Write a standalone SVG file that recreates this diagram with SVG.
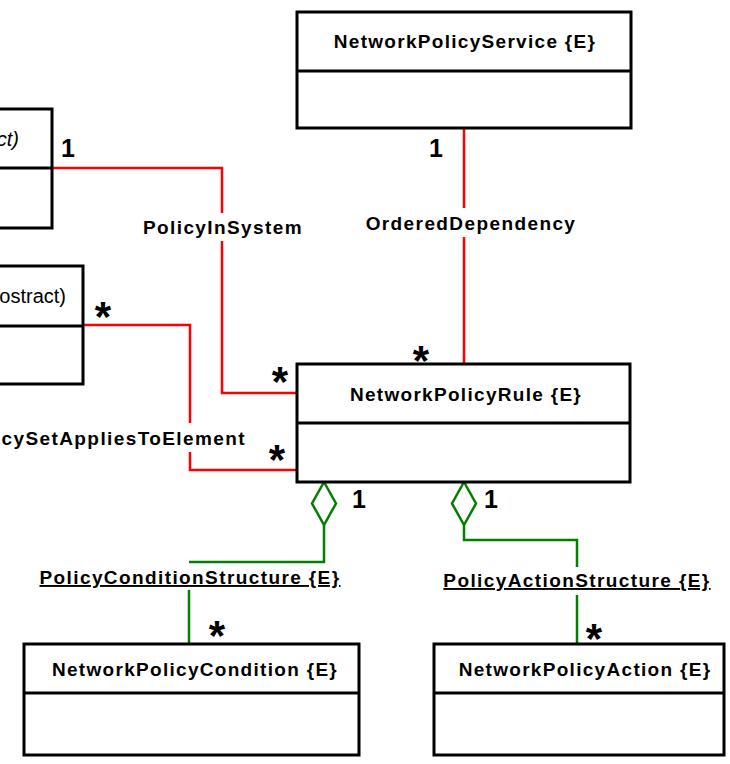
<svg xmlns="http://www.w3.org/2000/svg" width="730" height="764" viewBox="0 0 730 764">
  <style>
    .box { fill: #ffffff; stroke: #000000; stroke-width: 3; }
    .div { stroke: #000000; stroke-width: 3; fill: none; }
    .title { font-family: "Liberation Sans", Arial, sans-serif; font-weight: bold; font-size: 19px; letter-spacing: 1.3px; text-anchor: middle; fill: #000; }
    .plain { font-family: "Liberation Sans", Arial, sans-serif; font-size: 20px; fill: #000; text-anchor: end; }
    .assoc { font-family: "Liberation Sans", Arial, sans-serif; font-weight: bold; font-size: 19px; letter-spacing: 1.4px; fill: #000; }
    .mult { font-family: "Liberation Sans", Arial, sans-serif; font-weight: bold; font-size: 25px; fill: #000; text-anchor: middle; }
    .star { font-family: "Liberation Sans", Arial, sans-serif; font-weight: bold; font-size: 42px; fill: #000; text-anchor: middle; }
    .red { stroke: #ff0000; stroke-width: 2.5; fill: none; }
    .green { stroke: #008000; stroke-width: 2.5; fill: none; }
    .diamond { stroke: #008000; stroke-width: 2.5; fill: #ffffff; }
  </style>

  <!-- connectors -->
  <g id="connectors">
    <!-- PolicyInSystem -->
    <polyline class="red" points="52,168 222,168 222,213"/>
    <polyline class="red" points="222,241 222,393 297,393"/>
    <!-- PolicySetAppliesToElement -->
    <polyline class="red" points="83,325 190,325 190,423"/>
    <polyline class="red" points="190,452 190,470 297,470"/>
    <!-- OrderedDependency -->
    <line class="red" x1="464" y1="128" x2="464" y2="208"/>
    <line class="red" x1="464" y1="237" x2="464" y2="364"/>
    <!-- PolicyConditionStructure -->
    <polyline class="green" points="324,525 324,562 189,562"/>
    <line class="green" x1="189" y1="590" x2="189" y2="644"/>
    <!-- PolicyActionStructure -->
    <polyline class="green" points="464,525 464,540 577,540 577,567"/>
    <line class="green" x1="577" y1="595" x2="577" y2="644"/>
    <!-- aggregation diamonds -->
    <polygon class="diamond" points="324,482 336,503.5 324,525 312,503.5"/>
    <polygon class="diamond" points="464,482 476,503.5 464,525 452,503.5"/>

    <!-- association labels -->
    <text class="assoc" x="223" y="234" text-anchor="middle">PolicyInSystem</text>
    <text class="assoc" x="471" y="230" text-anchor="middle">OrderedDependency</text>
    <text class="assoc" x="246" y="445" text-anchor="end">cySetAppliesToElement</text>
    <text class="assoc" x="190" y="584" text-anchor="middle" text-decoration="underline">PolicyConditionStructure {E}</text>
    <text class="assoc" x="577" y="587" text-anchor="middle" text-decoration="underline">PolicyActionStructure {E}</text>

    <!-- multiplicities -->
    <text class="mult" x="68" y="157">1</text>
    <text class="mult" x="436" y="157">1</text>
    <text class="mult" x="359" y="508">1</text>
    <text class="mult" x="491" y="508">1</text>
    <text class="star" x="421" y="375">*</text>
    <text class="star" x="280" y="396">*</text>
    <text class="star" x="103" y="331">*</text>
    <text class="star" x="277" y="474">*</text>
    <text class="star" x="217" y="650">*</text>
    <text class="star" x="594" y="653">*</text>
  </g>

  <!-- partially visible class (top left) -->
  <g id="class-system">
    <rect class="box" x="-200" y="109" width="252" height="119"/>
    <line class="div" x1="-200" y1="168" x2="52" y2="168"/>
    <text class="plain" x="19" y="146" font-style="italic">ct)</text>
  </g>

  <!-- partially visible class (left) -->
  <g id="class-element">
    <rect class="box" x="-200" y="266" width="283" height="118"/>
    <line class="div" x1="-200" y1="326" x2="83" y2="326"/>
    <text class="plain" x="66" y="303">ostract)</text>
  </g>

  <g id="network-policy-service">
    <rect class="box" x="297" y="12" width="334" height="116"/>
    <line class="div" x1="297" y1="71" x2="631" y2="71"/>
    <text class="title" x="465" y="48">NetworkPolicyService {E}</text>
  </g>

  <g id="network-policy-rule">
    <rect class="box" x="297" y="364" width="333" height="118"/>
    <line class="div" x1="297" y1="423" x2="630" y2="423"/>
    <text class="title" x="466" y="401">NetworkPolicyRule {E}</text>
  </g>

  <g id="network-policy-condition">
    <rect class="box" x="24" y="644" width="335" height="111"/>
    <line class="div" x1="24" y1="693" x2="359" y2="693"/>
    <text class="title" x="195" y="676">NetworkPolicyCondition {E}</text>
  </g>

  <g id="network-policy-action">
    <rect class="box" x="434" y="644" width="290" height="111"/>
    <line class="div" x1="434" y1="693" x2="724" y2="693"/>
    <text class="title" x="585" y="676">NetworkPolicyAction {E}</text>
  </g>
</svg>
